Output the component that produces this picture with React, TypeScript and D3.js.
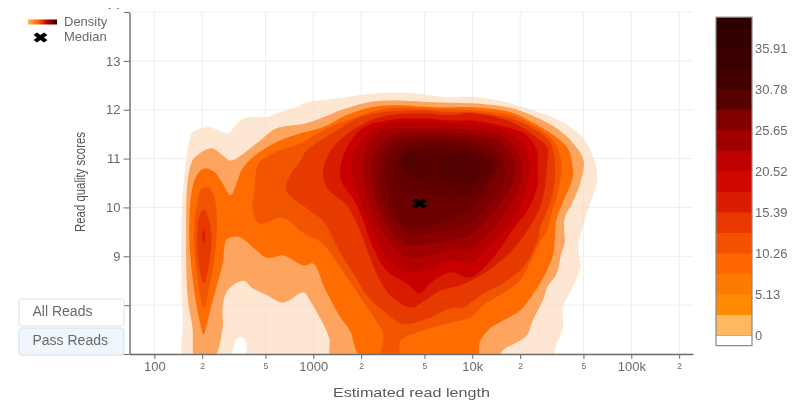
import React, { useEffect, useRef } from "react";
import * as d3 from "d3";

type Pt = [number, number];

// contour outlines: [log10(read length), quality score]
const level0: Pt[] = [[2.19,6.9],[2.18,7.68],[2.17,8.71],[2.17,9.43],[2.18,10.35],[2.2,10.96],[2.22,11.37],[2.24,11.54],[2.35,11.64],[2.4,11.58],[2.46,11.52],[2.54,11.78],[2.6,11.85],[2.71,11.85],[2.77,11.93],[2.87,12.03],[2.96,12.15],[3.09,12.21],[3.21,12.26],[3.42,12.34],[3.61,12.34],[3.82,12.26],[4,12.26],[4.17,12.19],[4.34,12.03],[4.47,11.89],[4.6,11.68],[4.7,11.41],[4.76,11.03],[4.785,10.55],[4.74,10.08],[4.7,9.67],[4.665,9.18],[4.68,8.77],[4.63,8.36],[4.57,7.95],[4.57,7.54],[4.53,7.21],[4.49,6.9],[2.59,6.9],[2.58,7.21],[2.55,7.35],[2.52,7.31],[2.46,6.9]];
const level1: Pt[] = [[2.26,6.9],[2.24,7.54],[2.21,8.15],[2.2,9.47],[2.21,10.55],[2.24,10.96],[2.27,11.07],[2.36,11.21],[2.43,11.07],[2.48,10.96],[2.65,11.33],[2.77,11.62],[2.95,11.72],[3.06,11.84],[3.17,11.99],[3.34,12.15],[3.48,12.19],[3.8,12.15],[4,12.13],[4.25,12.03],[4.41,11.83],[4.53,11.62],[4.63,11.33],[4.7,10.96],[4.68,10.51],[4.63,10.1],[4.58,9.77],[4.58,9.26],[4.56,9.06],[4.53,8.64],[4.47,8.36],[4.45,8.15],[4.38,7.68],[4.34,7.37],[4.19,7.07],[4.16,6.9],[3.12,6.9],[3.1,7.33],[3.04,7.75],[2.98,8.09],[2.94,8.26],[2.81,8.05],[2.71,8.2],[2.62,8.34],[2.56,8.5],[2.46,8.3],[2.43,7.95],[2.43,7.54],[2.37,6.9]];
const level2: Pt[] = [[2.31,7.4],[2.28,7.75],[2.24,8.57],[2.22,9.53],[2.24,10.41],[2.28,10.72],[2.32,10.8],[2.38,10.72],[2.43,10.49],[2.48,10.25],[2.56,10.82],[2.66,11.13],[2.79,11.37],[2.92,11.52],[3.06,11.64],[3.21,11.89],[3.34,12.03],[3.48,12.09],[3.8,12.05],[4,12.05],[4.24,11.95],[4.38,11.74],[4.51,11.48],[4.6,11.21],[4.63,10.86],[4.63,10.59],[4.58,10.18],[4.53,9.77],[4.51,9.06],[4.47,8.71],[4.41,8.36],[4.3,7.89],[4.19,7.68],[4.11,7.52],[4.05,7.27],[4.02,6.9],[3.31,6.9],[3.23,7.48],[3.17,7.75],[3.07,8.36],[3,8.85],[2.94,8.81],[2.81,9.02],[2.71,8.97],[2.54,9.39],[2.48,9.39],[2.45,9.32],[2.43,8.85],[2.39,8.36],[2.34,7.75]];
const level3Lobe: Pt[] = [[2.34,10.41],[2.37,10.29],[2.39,9.94],[2.39,9.32],[2.35,8.44],[2.31,7.95],[2.27,8.57],[2.25,9.53],[2.27,10.08],[2.3,10.39]];
const level3: Pt[] = [[2.63,10.35],[2.66,10.92],[2.79,11.17],[2.92,11.31],[3.06,11.58],[3.21,11.78],[3.34,11.93],[3.48,12.03],[3.8,12.01],[4,11.99],[4.24,11.89],[4.38,11.68],[4.51,11.37],[4.56,10.92],[4.55,10.51],[4.49,9.77],[4.47,9.53],[4.43,9.32],[4.36,8.85],[4.3,8.5],[4.22,8.3],[4.07,8],[3.99,7.75],[3.86,7.64],[3.75,7.54],[3.65,7.44],[3.55,7.27],[3.53,6.9],[3.43,6.9],[3.44,7.41],[3.38,7.75],[3.28,8.24],[3.14,8.91],[3.06,9.26],[2.94,9.47],[2.81,9.79],[2.66,9.67],[2.62,9.94]];
const level4Lobe: Pt[] = [[2.31,9.96],[2.34,9.79],[2.36,9.39],[2.34,8.77],[2.31,8.44],[2.28,8.85],[2.27,9.39],[2.28,9.79]];
const level4: Pt[] = [[2.83,10.49],[2.92,10.96],[2.96,11.17],[3.12,11.52],[3.29,11.84],[3.44,11.95],[3.69,11.99],[3.86,11.95],[4,11.95],[4.24,11.82],[4.38,11.62],[4.49,11.33],[4.52,10.86],[4.51,10.35],[4.46,9.84],[4.43,9.63],[4.41,9.32],[4.35,8.91],[4.3,8.71],[4.19,8.44],[4.07,8.24],[3.94,7.95],[3.86,7.93],[3.72,7.72],[3.56,7.62],[3.46,7.83],[3.34,8.19],[3.26,8.61],[3.17,9.06],[3.06,9.73],[2.96,9.98],[2.84,10.29]];
const level5Lobe: Pt[] = [[2.31,9.57],[2.32,9.39],[2.31,9.26],[2.3,9.39]];
const level5: Pt[] = [[3.06,10.72],[3.12,11.21],[3.23,11.54],[3.36,11.78],[3.48,11.89],[3.69,11.93],[3.86,11.89],[4,11.93],[4.22,11.78],[4.36,11.54],[4.47,11.23],[4.47,10.86],[4.43,10.04],[4.3,9.32],[4.13,8.77],[3.92,8.4],[3.8,8.3],[3.7,8.09],[3.61,7.95],[3.5,8.15],[3.42,8.5],[3.34,9.12],[3.28,9.63],[3.21,10.04],[3.09,10.39]];
const level6: Pt[] = [[3.17,10.8],[3.21,11.21],[3.31,11.62],[3.46,11.78],[3.69,11.82],[3.86,11.78],[4,11.78],[4.22,11.64],[4.34,11.48],[4.41,11.13],[4.41,10.86],[4.41,10.45],[4.34,9.9],[4.26,9.57],[4.13,8.97],[3.99,8.57],[3.86,8.67],[3.73,8.44],[3.67,8.24],[3.59,8.44],[3.46,8.71],[3.37,9.22],[3.31,9.77],[3.25,10.18],[3.18,10.51]];
const level7: Pt[] = [[3.24,10.86],[3.26,11.17],[3.33,11.48],[3.45,11.7],[3.7,11.74],[4,11.68],[4.21,11.58],[4.33,11.27],[4.36,10.86],[4.33,10.25],[4.24,9.69],[4.11,9.22],[3.99,8.87],[3.86,8.91],[3.73,8.75],[3.59,8.67],[3.47,8.95],[3.37,9.53],[3.31,10.04],[3.26,10.45]];
const level8: Pt[] = [[3.31,10.86],[3.36,11.37],[3.45,11.58],[3.7,11.62],[4,11.58],[4.17,11.48],[4.27,11.23],[4.31,10.86],[4.29,10.35],[4.21,9.9],[4.11,9.49],[3.99,9.16],[3.86,9.12],[3.73,9.02],[3.61,8.95],[3.5,9.22],[3.38,9.84],[3.33,10.35]];
const level9: Pt[] = [[3.36,10.86],[3.41,11.23],[3.5,11.48],[3.7,11.54],[3.99,11.5],[4.14,11.41],[4.22,11.21],[4.27,10.86],[4.25,10.45],[4.17,10.04],[4.09,9.73],[3.99,9.43],[3.87,9.32],[3.75,9.26],[3.62,9.22],[3.51,9.43],[3.43,9.84],[3.38,10.35]];
const level10: Pt[] = [[3.41,10.86],[3.45,11.17],[3.53,11.37],[3.7,11.46],[3.95,11.41],[4.08,11.33],[4.17,11.13],[4.21,10.76],[4.16,10.31],[4.08,9.98],[3.99,9.69],[3.86,9.53],[3.73,9.47],[3.63,9.41],[3.55,9.57],[3.47,9.9],[3.42,10.35]];
const level11: Pt[] = [[3.45,10.86],[3.5,11.13],[3.58,11.31],[3.73,11.37],[3.99,11.31],[4.11,11.13],[4.16,10.86],[4.12,10.55],[4.07,10.25],[3.99,9.98],[3.86,9.77],[3.73,9.63],[3.64,9.57],[3.56,9.69],[3.5,10],[3.47,10.35]];
const level12: Pt[] = [[3.51,10.86],[3.58,11.21],[3.73,11.27],[3.95,11.23],[4.08,11.07],[4.14,10.76],[4.08,10.51],[3.99,10.25],[3.86,10.18],[3.75,10.29],[3.62,10.25],[3.53,10.45]];
const level13: Pt[] = [[3.55,10.86],[3.61,11.11],[3.73,11.17],[3.92,11.17],[4.05,11.07],[4.11,10.8],[4.05,10.59],[3.95,10.35],[3.83,10.45],[3.73,10.59],[3.61,10.55]];
const level14Right: Pt[] = [[3.83,11],[3.94,11.07],[4.04,10.8],[4,10.55],[3.89,10.51],[3.8,10.76]];
const level14Left: Pt[] = [[3.6,11.11],[3.67,11.07],[3.7,10.86],[3.61,10.76],[3.55,10.96]];

// one entry per density band, lowest first
const contourParts: Pt[][][] = [
  [level0],
  [level1],
  [level2],
  [level3, level3Lobe],
  [level4, level4Lobe],
  [level5, level5Lobe],
  [level6],
  [level7],
  [level8],
  [level9],
  [level10],
  [level11],
  [level12],
  [level13],
  [level14Right, level14Left],
];
const contourColors = ["#fcdcbd", "#fda45e", "#ff6c02", "#f25500", "#e63a00", "#d81c00", "#c80000", "#b50000", "#a00000", "#8a0000", "#7a0000", "#6c0000", "#620000", "#5a0000", "#520000"];

const medianLength = 4660;
const medianQuality = 10.08;

const xTickValues = [100, 200, 500, 1000, 2000, 5000, 10000, 20000, 50000, 100000, 200000];
const xTickLabels = ["100", "2", "5", "1000", "2", "5", "10k", "2", "5", "100k", "2"];
const yTickValues = [7, 8, 9, 10, 11, 12, 13, 14];

const colorbarTicks = [0, 5.13, 10.26, 15.39, 20.52, 25.65, 30.78, 35.91];
const colorbarBottom = -1.25;
const colorbarTop = 39.76;
const colorbarStep = 2.565;
const colorbarColors = ["#ffb860", "#ff8c00", "#ff7a00", "#ff6600", "#f55000", "#e83800", "#da1c00", "#d00800", "#c00000", "#a00000", "#800000", "#560000", "#420000", "#3a0000", "#330000", "#2c0000"];

const textColor = "#6a6a6a";
const font = "'Liberation Sans', Arial, sans-serif";

const App = () => {
  const axes = useRef<SVGGElement>(null);

  const x = d3.scaleLog().domain([Math.pow(10, 1.844), Math.pow(10, 5.388)]).range([129.5, 693]);
  const y = d3.scaleLinear().domain([7, 14]).range([354, 12]);
  const c = d3.scaleLinear().domain([0, 35.91]).range([335.6, 48]);

  const outline = d3
    .line<Pt>()
    .x((d) => x(Math.pow(10, d[0])))
    .y((d) => y(d[1]))
    .curve(d3.curveCatmullRomClosed.alpha(0.5));

  const cross = d3.symbol().type(d3.symbolCross).size(72)();

  useEffect(() => {
    const g = d3.select(axes.current);
    g.selectAll("*").remove();

    const xAxis = g
      .append("g")
      .attr("transform", "translate(0,354)")
      .call(
        d3
          .axisBottom(x)
          .tickValues(xTickValues)
          .tickFormat((_, i) => xTickLabels[i])
          .tickSize(5)
          .tickSizeOuter(0)
      );
    xAxis
      .selectAll("text")
      .attr("font-family", font)
      .attr("fill", textColor)
      .attr("font-size", (_, i) => (xTickLabels[i].length > 1 ? 13 : 8.5))
      .attr("dy", (_, i) => (xTickLabels[i].length > 1 ? "0.71em" : "0.82em"));

    const yAxis = g
      .append("g")
      .attr("transform", "translate(129.5,0)")
      .call(d3.axisLeft(y).tickValues(yTickValues).tickFormat(d3.format("d")).tickSize(6).tickSizeOuter(0));
    yAxis
      .selectAll("text")
      .attr("font-family", font)
      .attr("fill", textColor)
      .attr("font-size", 13)
      .attr("x", -9);

    g.selectAll("path.domain").attr("stroke", "#6c6c6c").attr("stroke-width", 1.4);
    g.selectAll(".tick line").attr("stroke", "#6c6c6c");
  }, []);

  return (
    <svg
      width={801}
      height={402}
      style={{ position: "absolute", left: 0, top: 0, filter: "blur(0.45px)" }}
    >
      <defs>
        <clipPath id="plotClip">
          <rect x={129.5} y={12} width={563.5} height={342} />
        </clipPath>
        <linearGradient id="densityLine">
          <stop offset="0" stopColor="#ffb860" />
          <stop offset="0.35" stopColor="#ff6600" />
          <stop offset="0.65" stopColor="#c00000" />
          <stop offset="1" stopColor="#2c0000" />
        </linearGradient>
      </defs>

      {/* grid */}
      <g stroke="#eeeeee">
        {xTickValues.map((v) => (
          <line key={v} x1={x(v)} x2={x(v)} y1={12} y2={354} />
        ))}
        {yTickValues.map((v) => (
          <line key={v} x1={129.5} x2={693} y1={y(v)} y2={y(v)} />
        ))}
      </g>

      {/* density bands */}
      <g clipPath="url(#plotClip)">
        <g style={{ filter: "blur(0.7px)" }}>
          {contourParts.map((parts, i) =>
            parts.map((part, j) => (
              <path
                key={`${i}-${j}`}
                d={outline(part) ?? ""}
                fill={contourColors[i]}
                fillOpacity={i === 0 ? 0.68 : 1}
              />
            ))
          )}
        </g>
      </g>

      <path
        d={cross ?? ""}
        fill="#000"
        transform={`translate(${x(medianLength)},${y(medianQuality)}) scale(1.4,0.95) rotate(45)`}
      />

      <g ref={axes} />

      <text x={411.5} y={397} textAnchor="middle" fontFamily={font} fontSize={13.5} fill="#5a5a5a" textLength={157} lengthAdjust="spacingAndGlyphs">
        Estimated read length
      </text>
      <text transform="translate(85,182) rotate(-90)" textAnchor="middle" fontFamily={font} fontSize={14.5} fill="#555" textLength={100} lengthAdjust="spacingAndGlyphs">
        Read quality scores
      </text>

      {/* colorbar */}
      <rect x={716} y={c(colorbarTop)} width={36} height={c(colorbarBottom) - c(colorbarTop)} fill="#fff" />
      {colorbarColors
        .map((col, i) => ({ col, hi: Math.min((i + 1) * colorbarStep, colorbarTop) }))
        .reverse()
        .map((band) => (
          <rect key={band.col} x={716} y={c(band.hi)} width={36} height={c(0) - c(band.hi)} fill={band.col} />
        ))}
      <rect x={716} y={c(colorbarTop)} width={36} height={c(colorbarBottom) - c(colorbarTop)} fill="none" stroke="#888" strokeWidth={1.2} />
      {colorbarTicks.map((t) => (
        <text key={t} x={755} y={c(t) + 4.5} fontFamily={font} fontSize={13} fill={textColor}>
          {t}
        </text>
      ))}

      {/* legend */}
      <rect x={20} y={9} width={104} height={38} fill="#fff" />
      <rect x={28} y={19.5} width={29} height={5} fill="url(#densityLine)" />
      <text x={64} y={26} fontFamily={font} fontSize={13} fill={textColor}>Density</text>
      <path d={cross ?? ""} fill="#000" transform="translate(40.5,37.5) scale(1.3,0.95) rotate(45)" />
      <text x={64} y={41} fontFamily={font} fontSize={13} fill={textColor}>Median</text>

      {/* read filter buttons */}
      <rect x={19} y={299} width={105} height={27} rx={3} fill="#fff" stroke="#dde1e8" />
      <text x={32.5} y={316} fontFamily={font} fontSize={14} fill={textColor}>All Reads</text>
      <rect x={100} y={355} width={24} height={4} fill="#fff" />
      <rect x={19} y={328} width={105} height={27} rx={3} fill="#eff6fc" stroke="#d6dfe9" />
      <text x={32.5} y={345} fontFamily={font} fontSize={14} fill={textColor}>Pass Reads</text>
    </svg>
  );
};

export default App;
